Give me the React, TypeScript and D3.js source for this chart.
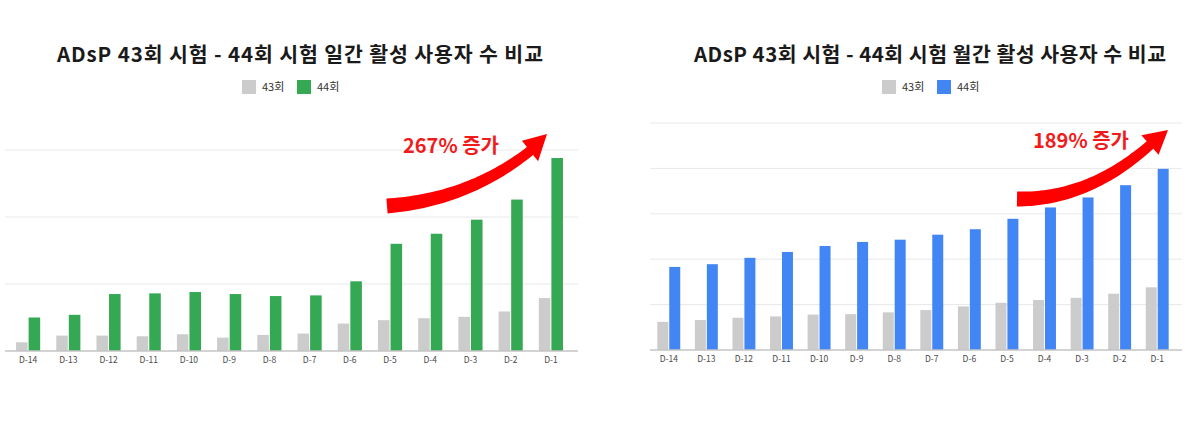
import * as d3 from "d3";

// ---- data (arbitrary units: one gridline = 100) ----
const DAYS = ["D-14", "D-13", "D-12", "D-11", "D-10", "D-9", "D-8", "D-7", "D-6", "D-5", "D-4", "D-3", "D-2", "D-1"];
const SERIES = ["43회", "44회"];

const DAILY_43 = [13, 23, 23, 22, 25, 20, 24, 26, 41, 46, 49, 51, 59, 79];
const DAILY_44 = [50, 54, 85, 86, 88, 85, 82, 83, 104, 160, 175, 196, 226, 288];

const MONTHLY_43 = [62, 66, 71, 74, 78, 79, 83, 88, 96, 104, 110, 115, 124, 138];
const MONTHLY_44 = [183, 189, 203, 216, 229, 238, 243, 254, 266, 289, 314, 336, 363, 399];

const DAILY_TICKS = [100, 200, 300];
const MONTHLY_TICKS = [100, 200, 300, 400, 500];

const COLORS = {
  gray: "#cccccc",
  green: "#34a853",
  blue: "#4285f4",
  grid: "#e8e8e8",
  axis: "#c4c4c4",
  text: "#1a1a1a",
  label: "#4a4a4a",
  red: "#ff0000",
  redText: "#f01c1c",
};

const FONT = "'Noto Sans CJK KR', 'Noto Sans', sans-serif";

type Pt = [number, number];

// thick curved arrow: quadratic spine p0 -> c -> p1, then a triangular head to tip
function arrowPath(p0: Pt, c: Pt, p1: Pt, tip: Pt, w0: number, w1: number, hw: number) {
  const n = 40;
  const left: Pt[] = [];
  const right: Pt[] = [];
  for (let i = 0; i <= n; i++) {
    const t = i / n;
    const x = (1 - t) * (1 - t) * p0[0] + 2 * (1 - t) * t * c[0] + t * t * p1[0];
    const y = (1 - t) * (1 - t) * p0[1] + 2 * (1 - t) * t * c[1] + t * t * p1[1];
    const dx = 2 * (1 - t) * (c[0] - p0[0]) + 2 * t * (p1[0] - c[0]);
    const dy = 2 * (1 - t) * (c[1] - p0[1]) + 2 * t * (p1[1] - c[1]);
    const len = Math.hypot(dx, dy);
    const nx = -dy / len;
    const ny = dx / len;
    const w = (w0 + (w1 - w0) * t) / 2;
    left.push([x + nx * w, y + ny * w]);
    right.push([x - nx * w, y - ny * w]);
  }
  const ex = p1[0] - c[0];
  const ey = p1[1] - c[1];
  const el = Math.hypot(ex, ey);
  const nx = -ey / el;
  const ny = ex / el;
  const barbL: Pt = [p1[0] + nx * hw, p1[1] + ny * hw];
  const barbR: Pt = [p1[0] - nx * hw, p1[1] - ny * hw];
  const pts = [...left, barbL, tip, barbR, ...right.reverse()];
  return "M" + pts.map((p) => `${p[0].toFixed(1)},${p[1].toFixed(1)}`).join("L") + "Z";
}

interface ChartProps {
  title: string;
  titleX: number;
  titleWidth: number;
  prev: number[];
  curr: number[];
  currColor: string;
  ticks: number[];
  xRange: [number, number];
  gridRange: [number, number];
  yRange: [number, number];
  padInner: number;
  legendX: number;
  note: string;
  noteX: number;
  noteY: number;
  arrow: { p0: Pt; c: Pt; p1: Pt; tip: Pt };
}

function Chart(props: ChartProps) {
  const { prev, curr, ticks, xRange, gridRange, yRange } = props;

  const x0 = d3.scaleBand<string>().domain(DAYS).range(xRange).paddingInner(props.padInner).paddingOuter(props.padInner / 2);
  const x1 = d3.scaleBand<string>().domain(SERIES).range([0, x0.bandwidth()]).paddingInner(0.08);
  const y = d3.scaleLinear().domain([0, d3.max(ticks) ?? 100]).range(yRange);

  const colorOf = (s: string) => (s === SERIES[0] ? COLORS.gray : props.currColor);
  const valueOf = (s: string, i: number) => (s === SERIES[0] ? prev[i] : curr[i]);

  return (
    <g>
      <text
        x={props.titleX}
        y={62}
        textAnchor="middle"
        fontFamily={FONT}
        fontWeight={700}
        fontSize={20.5}
        textLength={props.titleWidth}
        lengthAdjust="spacing"
        fill={COLORS.text}
      >
        {props.title}
      </text>

      {/* legend */}
      {SERIES.map((s, i) => (
        <g key={s} transform={`translate(${props.legendX + i * 55},80)`}>
          <rect width={14} height={14} fill={colorOf(s)} />
          <text x={20} y={11} fontFamily={FONT} fontSize={11} fill="#333">
            {s}
          </text>
        </g>
      ))}

      {/* gridlines */}
      {ticks.map((t) => (
        <line key={t} x1={gridRange[0]} x2={gridRange[1]} y1={y(t)} y2={y(t)} stroke={COLORS.grid} strokeWidth={1} />
      ))}

      {/* bars */}
      {DAYS.map((d, i) => (
        <g key={d} transform={`translate(${x0(d)},0)`}>
          {SERIES.map((s) => (
            <rect
              key={s}
              x={x1(s)}
              y={y(valueOf(s, i))}
              width={x1.bandwidth()}
              height={y(0) - y(valueOf(s, i))}
              fill={colorOf(s)}
            />
          ))}
          <text
            x={x0.bandwidth() / 2}
            y={y(0) + 12}
            textAnchor="middle"
            fontFamily={FONT}
            fontSize={8.5}
            fill={COLORS.label}
          >
            {d}
          </text>
        </g>
      ))}

      {/* baseline */}
      <line x1={gridRange[0]} x2={gridRange[1]} y1={y(0)} y2={y(0)} stroke={COLORS.axis} strokeWidth={1.5} />

      {/* annotation */}
      <path d={arrowPath(props.arrow.p0, props.arrow.c, props.arrow.p1, props.arrow.tip, 15, 10, 13)} fill={COLORS.red} />
      <text x={props.noteX} y={props.noteY} fontFamily={FONT} fontWeight={700} fontSize={20} fill={COLORS.redText}>
        {props.note}
      </text>
    </g>
  );
}

export default function App() {
  return (
    <div style={{ position: "fixed", left: 0, top: 0, width: 1200, height: 433, background: "#fff" }}>
      <svg width={1200} height={433} viewBox="0 0 1200 433">
        <rect width={1200} height={433} fill="#fff" />
        <Chart
          title="ADsP 43회 시험 - 44회 시험 일간 활성 사용자 수 비교"
          titleX={300}
          titleWidth={486}
          prev={DAILY_43}
          curr={DAILY_44}
          currColor={COLORS.green}
          ticks={DAILY_TICKS}
          xRange={[8, 571]}
          gridRange={[5, 578]}
          yRange={[351, 150]}
          padInner={0.4}
          legendX={242}
          note="267% 증가"
          noteX={403}
          noteY={153}
          arrow={{ p0: [387, 206], c: [468, 200], p1: [530, 151], tip: [547, 134] }}
        />
        <Chart
          title="ADsP 43회 시험 - 44회 시험 월간 활성 사용자 수 비교"
          titleX={930}
          titleWidth={472}
          prev={MONTHLY_43}
          curr={MONTHLY_44}
          currColor={COLORS.blue}
          ticks={MONTHLY_TICKS}
          xRange={[650, 1176]}
          gridRange={[650, 1182]}
          yRange={[350, 123]}
          padInner={0.39}
          legendX={882}
          note="189% 증가"
          noteX={1033}
          noteY={148}
          arrow={{ p0: [1017, 199], c: [1088, 200], p1: [1150, 145], tip: [1168, 130] }}
        />
      </svg>
    </div>
  );
}
